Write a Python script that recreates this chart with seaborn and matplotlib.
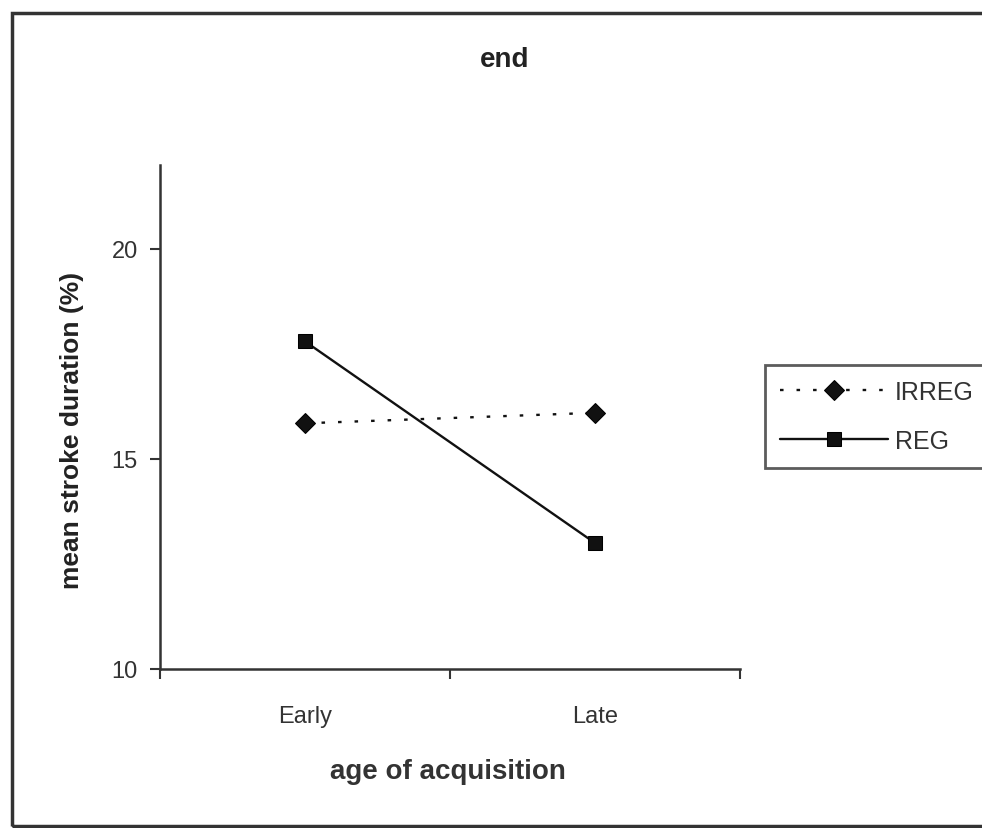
import pandas as pd
import matplotlib
matplotlib.use("Agg")
import matplotlib.pyplot as plt
import seaborn as sns
from matplotlib.patches import Rectangle

# Data
categories = ["Early", "Late"]
groups = ["IRREG", "REG"]
irreg_values = [15.85, 16.1]
reg_values = [17.8, 13.0]

df = pd.DataFrame({
    "group": [g for g in groups for _ in categories],
    "pos": list(range(len(categories))) * len(groups),
    "value": irreg_values + reg_values,
})

sns.set_style("white")
plt.rcParams["font.family"] = ["Liberation Sans", "DejaVu Sans"]

fig = plt.figure(figsize=(9.82, 8.29), dpi=100)
ax = fig.add_axes([160 / 982, 1 - 670 / 829, 580 / 982, 504 / 829])

sns.lineplot(
    data=df, x="pos", y="value", style="group",
    markers={"IRREG": "D", "REG": "s"},
    dashes={"IRREG": (1.5, 5.5), "REG": ""},
    color="#111111", linewidth=1.7, markersize=10,
    markeredgecolor="black", ax=ax,
)

ax.set_xlim(-0.5, 1.5)
ax.set_ylim(10, 22)
ax.set_yticks([10, 15, 20])
ax.tick_params(axis="y", labelsize=17, length=7, width=1.5, color="#333333",
               left=True, pad=9, labelcolor="#333333")

# category axis: ticks between categories, labels at centres
ax.set_xticks([-0.5, 0.5, 1.5])
ax.set_xticklabels([])
ax.set_xticks([0, 1], minor=True)
ax.set_xticklabels(categories, minor=True)
ax.tick_params(axis="x", which="major", length=7, width=1.5, color="#333333", bottom=True)
ax.tick_params(axis="x", which="minor", length=0, labelsize=17, pad=26, labelcolor="#333333")

for side in ["top", "right"]:
    ax.spines[side].set_visible(False)
for side in ["left", "bottom"]:
    ax.spines[side].set_color("#333333")
    ax.spines[side].set_linewidth(1.8)

ax.set_xlabel("")
ax.set_ylabel("")
fig.text(505 / 982, 1 - 60 / 829, "end", ha="center", va="center",
         fontsize=20, fontweight="bold", color="#222222")
fig.text(448 / 982, 1 - 772 / 829, "age of acquisition", ha="center", va="center",
         fontsize=20, fontweight="bold", color="#333333")
fig.text(72 / 982, 1 - 430 / 829, "mean stroke duration (%)", ha="center", va="center",
         rotation=90, fontsize=19, fontweight="bold", color="#222222")

# legend outside the plot on the right
handles, labels = ax.get_legend_handles_labels()
ax.get_legend().remove()
leg = fig.legend(handles, labels, loc="upper left",
                 bbox_to_anchor=(765 / 982, 1 - 366 / 829),
                 frameon=True, fancybox=False, fontsize=18,
                 handlelength=4.3, handletextpad=0.3, borderpad=0.6,
                 labelspacing=1.0, borderaxespad=0)
leg.get_frame().set_edgecolor("#333333")
leg.get_frame().set_linewidth(2)
for t in leg.get_texts():
    t.set_color("#333333")

# outer chart frame
fig.patches.append(Rectangle((12 / 982, 1 - 827 / 829), 1.0, (827 - 14) / 829,
                             transform=fig.transFigure, fill=False,
                             edgecolor="#333333", linewidth=2.5, clip_on=False))

fig.savefig("out.png", dpi=100)
